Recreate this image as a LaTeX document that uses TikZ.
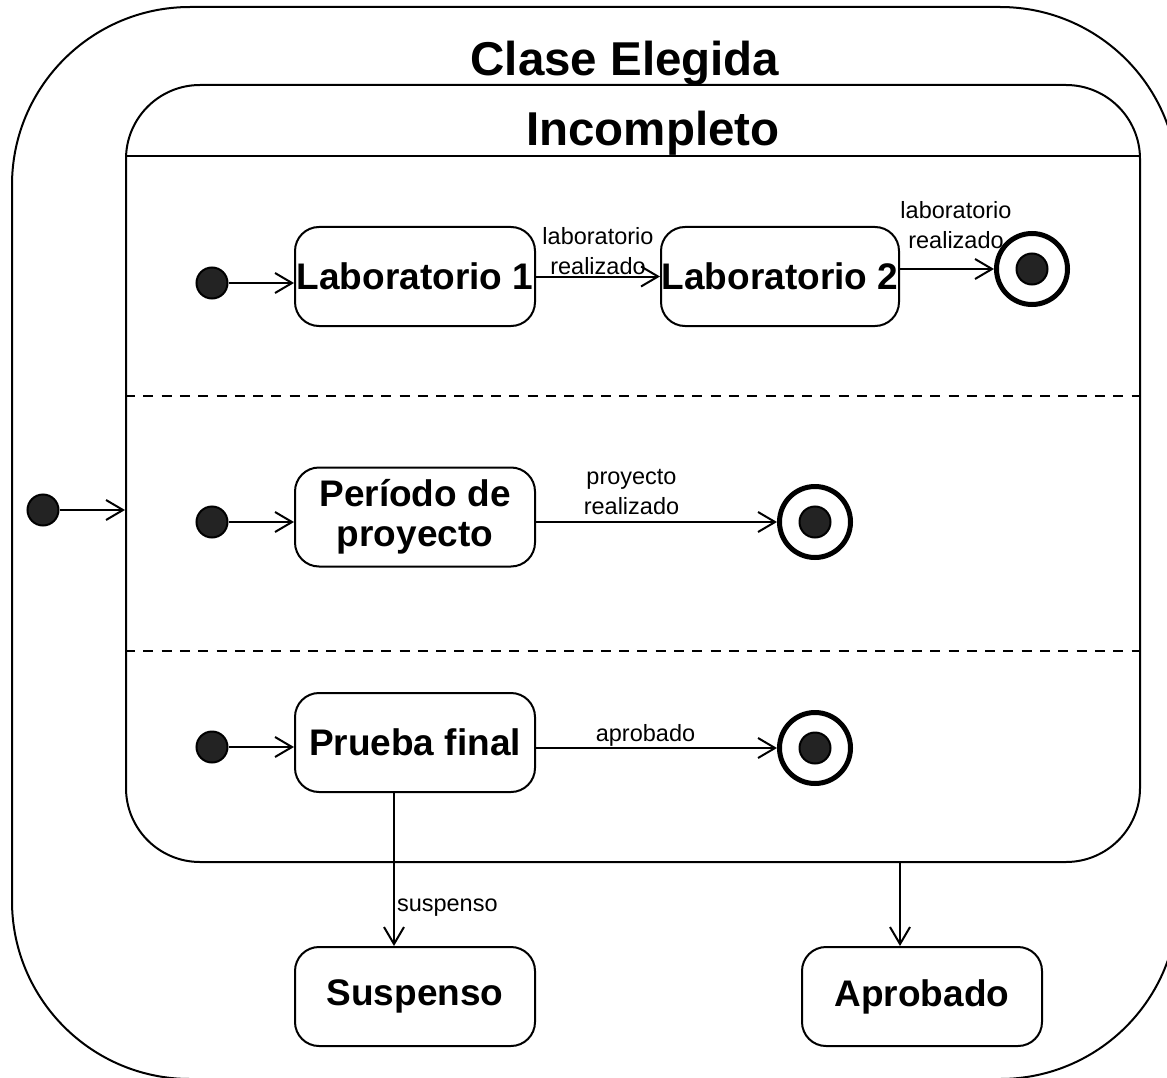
\documentclass[tikz,border=0pt]{standalone}
\usepackage{fontspec}
\setmainfont{Liberation Sans}
\usetikzlibrary{arrows.meta}
\definecolor{dot}{HTML}{232323}
\begin{document}
\begin{tikzpicture}[x=1pt,y=-1pt, line width=2pt,
  arr/.style={-{Straight Barb[length=17pt,width=20pt]}},
  stbox/.style={draw, rounded corners=24pt, minimum width=240pt, minimum height=99pt,
    font=\fontsize{37}{40}\selectfont\bfseries, align=center, inner sep=0pt},
  initst/.style={circle, draw, fill=dot, minimum size=31pt, inner sep=0pt},
  finalst/.style={circle, draw, line width=5pt, minimum size=71pt, inner sep=0pt,
    path picture={\draw[line width=2pt, fill=dot] (path picture bounding box.center) circle (15.5pt);}},
  lbl/.style={font=\fontsize{23.5}{30}\selectfont, align=center, inner sep=0pt},
  ttl/.style={font=\fontsize{47.5}{50}\selectfont\bfseries, inner sep=0pt},
  sep/.style={dash pattern=on 10pt off 8.3pt}
]
\useasboundingbox (0,0) rectangle (1167,1078);
\begin{scope}
\clip (0,0) rectangle (1167,1078);
\node[draw, rounded corners=178pt, minimum width=1166pt, minimum height=1072pt, inner sep=0pt] (ce) at (595,543) {};
\end{scope}
\node[ttl, anchor=base] (tce) at (625,76) {Clase Elegida};

\node[draw, rounded corners=74pt, minimum width=1014pt, minimum height=777pt, inner sep=0pt] (inc) at (633,473.5) {};
\node[ttl, anchor=base] (tinc) at (653,146) {Incompleto};
\draw (inc.west |- 0,156) -- (inc.east |- 0,156);
\draw[sep] (inc.west |- 0,396) -- (inc.east |- 0,396);
\draw[sep] (inc.west |- 0,651) -- (inc.east |- 0,651);

% outer initial
\node[initst] (i0) at (43,510) {};
\draw[arr] (i0) -- (i0 -| inc.west);

% region 1
\node[initst] (i1) at (212,283) {};
\node[stbox] (l1) at (415,276.5) {Laboratorio 1};
\node[stbox, minimum width=238pt] (l2) at (780,276.5) {Laboratorio 2};
\node[finalst] (f1) at (1032,269) {};
\draw[arr] (i1) -- (i1 -| l1.west);
\draw[arr] (l1) -- (l2) node[lbl, midway, anchor=south, yshift=1pt] (t12) {laboratorio\\realizado};
\draw[arr] (l2.east |- f1) -- (f1) node[lbl, midway, anchor=south, xshift=9pt, yshift=19pt] (t2f) {laboratorio\\realizado};

% region 2
\node[initst] (i2) at (212,522) {};
\node[stbox] (per) at (415,517) {Período de\\proyecto};
\node[finalst] (f2) at (815,522) {};
\draw[arr] (i2) -- (i2 -| per.west);
\draw[arr] (per.east |- f2) -- (f2) node[lbl, midway, anchor=south, xshift=-25pt, yshift=6pt] (tpf) {proyecto\\realizado};

% region 3
\node[initst] (i3) at (212,747) {};
\node[stbox] (pf) at (415,742.5) {Prueba final};
\node[finalst] (f3) at (815,748) {};
\draw[arr] (i3) -- (i3 -| pf.west);
\draw[arr] (pf.east |- f3) -- (f3) node[lbl, midway, anchor=base, xshift=-11pt, yshift=7pt] (tap) {aprobado};

% exits
\node[stbox] (sus) at (415,996.5) {Suspenso};
\node[stbox] (apr) at (922,996.5) {Aprobado};
\draw[arr] ([xshift=-21pt]pf.south) -- ([xshift=-21pt]sus.north) node[lbl, pos=0.74, anchor=base west, xshift=2pt, yshift=-5pt] (tsus) {suspenso};
\draw[arr] ([xshift=-22pt]apr.north |- inc.south) -- ([xshift=-22pt]apr.north);
\end{tikzpicture}
\end{document}
